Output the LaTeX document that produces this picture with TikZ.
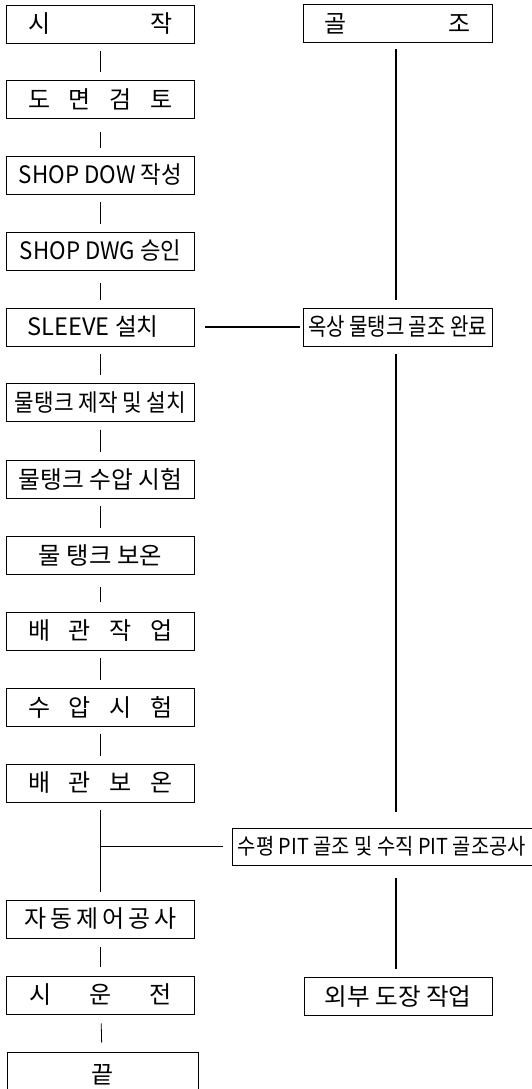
\documentclass[tikz,border=0pt]{standalone}
\usepackage{fontspec}
\usepackage{graphicx}
\setmainfont{Noto Sans CJK KR}
\newcommand\spr[2]{\makebox[#1][s]{#2}}
\newcommand\fitw[2]{\resizebox{#1}{\height}{#2}}
\tikzset{
  box/.style={draw, line width=0.9pt, inner sep=0pt, minimum height=38pt,
    font=\fontsize{24}{24}\selectfont},
  lbox/.style={box, minimum width=188pt},
  rbox/.style={box, minimum width=189pt},
  conn/.style={line width=0.8pt, shorten <=8pt, shorten >=8pt},
  rconn/.style={line width=1.6pt},
}
\begin{document}
\begin{tikzpicture}[x=1pt,y=-1pt]
\useasboundingbox (0,0) rectangle (531,1089);
% left column
\node[lbox] (b1) at (100.5,24) {\spr{145pt}{시\hfill 작}};
\node[lbox] (b2) at (100.5,99) {\spr{145pt}{도\hfill 면\hfill 검\hfill 토}};
\node[lbox] (b3) at (100.5,175) {\fitw{163pt}{SHOP DOW 작성}};
\node[lbox] (b4) at (100.5,251) {\fitw{161pt}{SHOP DWG 승인}};
\node[lbox] (b5) at (100.5,327) {\fitw{131pt}{SLEEVE 설치}\hspace*{15pt}};
\node[lbox] (b6) at (100.5,402.5) {\fitw{171pt}{물탱크 제작 및 설치}};
\node[lbox] (b7) at (100.5,479) {\fitw{163pt}{물탱크 수압 시험}};
\node[lbox] (b8) at (100.5,555) {\fitw{123pt}{물 탱크 보온}};
\node[lbox] (b9) at (100.5,631) {\spr{145pt}{배\hfill 관\hfill 작\hfill 업}};
\node[lbox] (b10) at (100.5,707) {\spr{145pt}{수\hfill 압\hfill 시\hfill 험}};
\node[lbox] (b11) at (100.5,783) {\spr{145pt}{배\hfill 관\hfill 보\hfill 온}};
\node[lbox] (b12) at (100.5,919) {\spr{152pt}{자\hfill 동\hfill 제\hfill 어\hfill 공\hfill 사}};
\node[lbox] (b13) at (100.5,995) {\spr{143pt}{시\hfill 운\hfill 전}};
\node[box, minimum width=191pt, minimum height=48pt] (b14) at (102.5,1076) {\raisebox{5pt}{끝}};
% right column
\node[rbox] (r1) at (397.5,23.5) {\spr{146pt}{골\hfill 조}};
\node[rbox] (r2) at (397.5,327) {\fitw{179pt}{옥상 물탱크 골조 완료}};
\node[box, minimum width=300pt, minimum height=37pt, font=\fontsize{22}{22}\selectfont] (r3) at (382,846.5) {\fitw{288pt}{수평 PIT 골조 및 수직 PIT 골조공사}};
\node[rbox, minimum width=188pt] (r4) at (398,996.5) {\fitw{147pt}{외부 도장 작업}};
% left connectors
\draw[conn] (b1) -- (b2);
\draw[conn, shorten <=14pt] (b2) -- (b3);
\draw[conn] (b3) -- (b4);
\draw[conn, shorten <=13pt] (b4) -- (b5);
\draw[conn] (b5) -- (b6);
\draw[conn] (b6) -- (b7);
\draw[conn] (b7) -- (b8);
\draw[conn, shorten <=13pt, shorten >=10pt] (b8) -- (b9);
\draw[conn] (b9) -- (b10);
\draw[conn] (b10) -- (b11);
\draw[conn, line width=1pt] (b11) -- (b12);
\draw[conn, shorten <=9pt, shorten >=9pt] (b12) -- (b13);
\draw[conn, shorten <=9pt, shorten >=9pt] (b13) -- (b14);
% branch
\coordinate (br) at (100.5,846.5);
\draw[line width=1.1pt, shorten >=9pt] (br) -- (r3.west);
\draw[line width=1.1pt, shorten <=10pt, shorten >=3pt] (b5.east) -- (r2.west);
% right connectors
\draw[rconn, shorten <=7pt, shorten >=8pt] (396,42.5) -- (396,308);
\draw[rconn, shorten <=8pt, shorten >=16pt] (396,346) -- (396,828);
\draw[rconn, shorten <=13pt, shorten >=9pt] (396,865) -- (396,977.5);
\end{tikzpicture}
\end{document}
